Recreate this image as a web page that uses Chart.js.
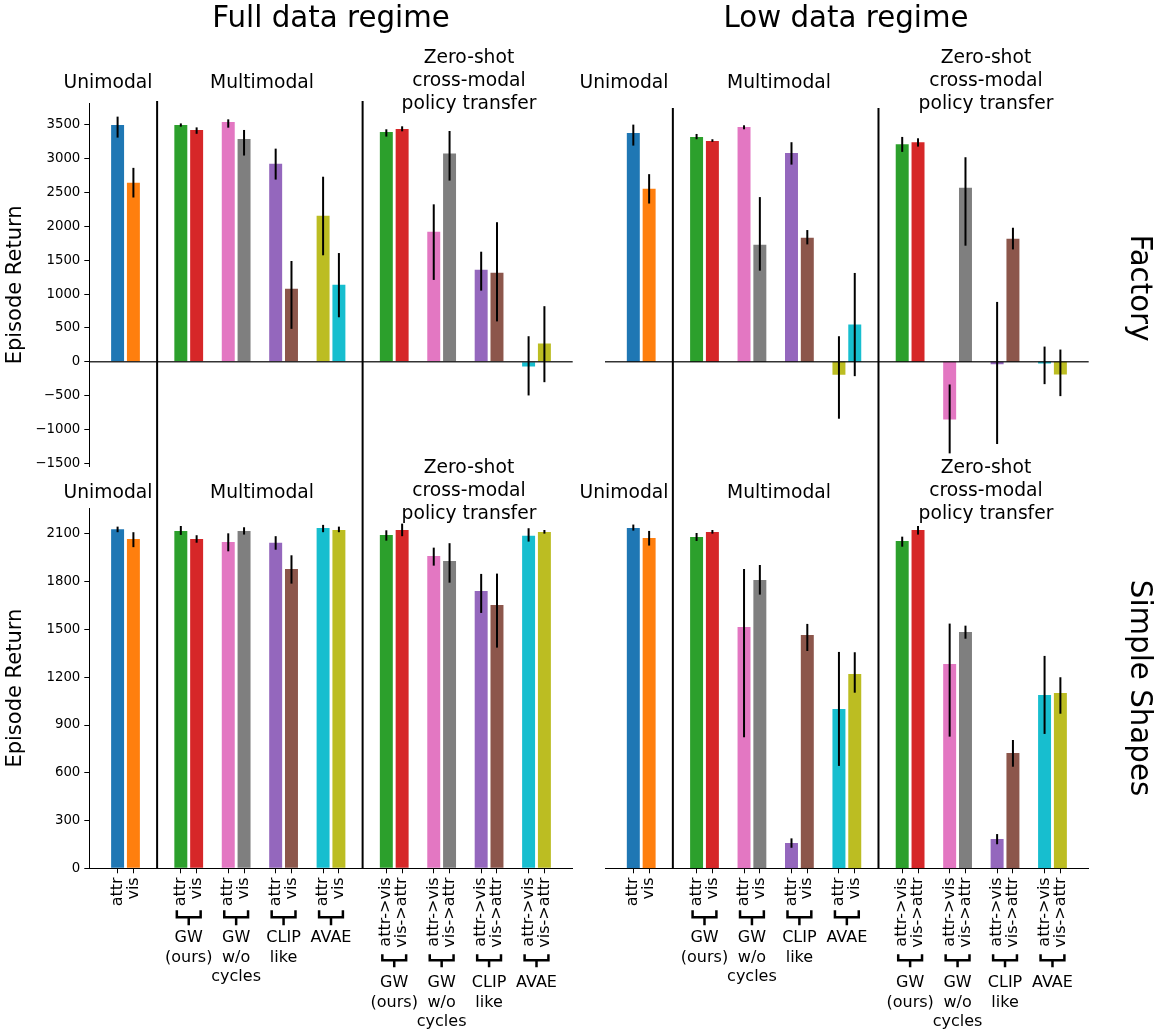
<!DOCTYPE html>
<html><head><meta charset="utf-8">
<script src="https://cdn.jsdelivr.net/npm/chart.js@4.4.1/dist/chart.umd.min.js"></script>
<style>
body{margin:0;background:#fff;}
#wrap{position:relative;width:1169px;height:1035px;overflow:hidden;font-family:'DejaVu Sans',sans-serif;color:#000;background:#fff;}
canvas{position:absolute;}
.t{position:absolute;white-space:nowrap;line-height:1;transform:translateX(-50%);}
.r{position:absolute;white-space:nowrap;line-height:1;transform:translate(-50%,-50%) rotate(90deg);}
</style></head><body><div id="wrap">
<canvas id="cTopFull" width="590" height="470" style="left:0;top:0"></canvas>
<canvas id="cTopLow" width="579" height="470" style="left:590px;top:0"></canvas>
<canvas id="cBotFull" width="590" height="565" style="left:0;top:470px"></canvas>
<canvas id="cBotLow" width="579" height="565" style="left:590px;top:470px"></canvas>
</div>
<script>
// ---------------- DATA ----------------
const regimes = ['Full data regime', 'Low data regime'];
const environments = ['Factory', 'Simple Shapes'];
const sectionTitles = ['Unimodal', 'Multimodal', 'Zero-shot\ncross-modal\npolicy transfer'];
const groupNames = ['GW\n(ours)', 'GW\nw/o\ncycles', 'CLIP\nlike', 'AVAE'];
const unimodalLabels = ['attr', 'vis'];
const multimodalLabels = ['attr', 'vis'];
const zeroShotLabels = ['attr->vis', 'vis->attr'];
const yAxisTitle = 'Episode Return';
const factoryTicks = [-1500, -1000, -500, 0, 500, 1000, 1500, 2000, 2500, 3000, 3500];
const shapesTicks = [0, 300, 600, 900, 1200, 1500, 1800, 2100];

// Factory – full data regime (bar value, error low end, error high end)
const factoryFullMean = [3500, 2645, 3500, 3426, 3544, 3294, 2925, 1081, 2158, 1140, 3396, 3440, 1922, 3077, 1361, 1317, -70, 270];
const factoryFullLow  = [3313, 2428, 3475, 3369, 3460, 3048, 2693, 487, 1574, 658, 3328, 3406, 1210, 2678, 1052, 597, -497, -301];
const factoryFullHigh = [3623, 2866, 3523, 3464, 3583, 3426, 3150, 1490, 2735, 1607, 3436, 3480, 2327, 3411, 1627, 2063, 378, 822];
const factoryFullColors = ['blue','orange','green','red','pink','gray','purple','brown','olive','cyan','green','red','pink','gray','purple','brown','cyan','olive'];

// Factory – low data regime
const factoryLowMean = [3382, 2556, 3323, 3264, 3471, 1730, 3087, 1834, -190, 550, 3214, 3244, -851, 2571, -35, 1819, -25, -187];
const factoryLowLow  = [3195, 2339, 3289, 3250, 3436, 1347, 2914, 1735, -841, -212, 3102, 3180, -1353, 1716, -1215, 1661, -330, -507];
const factoryLowHigh = [3505, 2773, 3367, 3289, 3495, 2434, 3245, 1947, 378, 1313, 3323, 3303, -335, 3023, 885, 1981, 225, 181];
const factoryLowColors = ['blue','orange','green','red','pink','gray','purple','brown','olive','cyan','green','red','pink','gray','purple','brown','cyan','olive'];

// Simple Shapes – full data regime
const shapesFullMean = [2130, 2068, 2119, 2068, 2050, 2119, 2044, 1880, 2138, 2125, 2094, 2125, 1962, 1930, 1742, 1654, 2088, 2113];
const shapesFullLow  = [2111, 2017, 2094, 2045, 1991, 2096, 2001, 1788, 2111, 2111, 2058, 2086, 1901, 1794, 1604, 1386, 2052, 2102];
const shapesFullHigh = [2146, 2111, 2150, 2092, 2104, 2142, 2086, 1966, 2157, 2146, 2123, 2165, 2014, 2042, 1849, 1851, 2136, 2125];
const shapesFullColors = ['blue','orange','green','red','pink','gray','purple','brown','cyan','olive','green','red','pink','gray','purple','brown','cyan','olive'];

// Simple Shapes – low data regime
const shapesLowMean = [2138, 2075, 2081, 2113, 1516, 1811, 159, 1466, 1001, 1221, 2056, 2125, 1283, 1484, 184, 724, 1089, 1101];
const shapesLowLow  = [2121, 2027, 2056, 2102, 823, 1719, 129, 1365, 643, 1103, 2020, 2096, 827, 1442, 151, 638, 844, 971];
const shapesLowHigh = [2159, 2119, 2106, 2125, 1880, 1905, 188, 1535, 1359, 1357, 2083, 2150, 1537, 1524, 215, 806, 1334, 1200];
const shapesLowColors = ['blue','orange','green','red','pink','gray','purple','brown','cyan','olive','green','red','pink','gray','purple','brown','cyan','olive'];

const tab = {blue:'#1f77b4', orange:'#ff7f0e', green:'#2ca02c', red:'#d62728', purple:'#9467bd',
             brown:'#8c564b', pink:'#e377c2', gray:'#7f7f7f', olive:'#bcbd22', cyan:'#17becf'};

// ---------------- STRUCTURE ----------------
// sections -> groups of two bars; one empty slot between groups, two between sections
const sectionGroupCounts = [1, groupNames.length, groupNames.length];
const sectionLabelSets = [unimodalLabels, multimodalLabels, zeroShotLabels];
const positions = [], tickLabels = [], groupsInfo = [], dividers = [];
(function () {
  let p = 0;
  sectionGroupCounts.forEach((n, si) => {
    if (si > 0) p += 2;
    for (let g = 0; g < n; g++) {
      if (g > 0) p += 1;
      positions.push(p, p + 1);
      tickLabels.push(sectionLabelSets[si][0], sectionLabelSets[si][1]);
      groupsInfo.push({section: si, group: g, a: p, b: p + 1});
      p += 2;
    }
  });
  // divider positions: midway between the last bar of a section and the first of the next
  for (let i = 1; i < positions.length; i++) {
    if (positions[i] - positions[i - 1] === 3) dividers.push((positions[i] + positions[i - 1]) / 2);
  }
})();

Chart.defaults.font.family = "'DejaVu Sans', sans-serif";
Chart.defaults.color = '#000';

function fmt(v) { return v < 0 ? '\u2212' + Math.abs(v) : String(v); }
function line(ctx, x1, y1, x2, y2) { ctx.beginPath(); ctx.moveTo(x1, y1); ctx.lineTo(x2, y2); ctx.stroke(); }

function buildChart(cfg) {
  const decor = {
    id: 'decor',
    afterDatasetsDraw(chart) {
      const ctx = chart.ctx, xs = chart.scales.x, ys = chart.scales.y, a = chart.chartArea;
      ctx.save();
      if (cfg.zeroLine) {
        ctx.strokeStyle = 'rgba(0,0,0,0.8)'; ctx.lineWidth = 1.5;
        const y0 = ys.getPixelForValue(0);
        line(ctx, a.left, y0, a.right, y0);
      }
      ctx.strokeStyle = '#000'; ctx.lineWidth = 2; ctx.lineCap = 'butt';
      positions.forEach((p, i) => {
        const x = xs.getPixelForValue(p);
        line(ctx, x, ys.getPixelForValue(cfg.lo[i]), x, ys.getPixelForValue(cfg.hi[i]));
      });
      ctx.restore();
    },
    afterDraw(chart) {
      const ctx = chart.ctx, xs = chart.scales.x, a = chart.chartArea;
      ctx.save();
      ctx.strokeStyle = '#000'; ctx.lineWidth = 2;
      dividers.forEach(d => {
        const x = xs.getPixelForValue(d);
        line(ctx, x, cfg.divTop, x, cfg.divToAxis ? a.bottom : chart.height);
      });
      if (cfg.brackets) {
        ctx.lineWidth = 2.5; ctx.lineJoin = 'miter';
        ctx.font = "16px 'DejaVu Sans'"; ctx.fillStyle = '#000';
        ctx.textAlign = 'center'; ctx.textBaseline = 'alphabetic';
        groupsInfo.forEach(g => {
          if (g.section === 0) return;
          const off = g.section === 1 ? {top: 42, h: 49, stem: 57, text: 74} : {top: 86, h: 92, stem: 99, text: 119};
          const xl = xs.getPixelForValue(g.a) - 4, xr = xs.getPixelForValue(g.b) + 4, xm = (xl + xr) / 2;
          const b = a.bottom;
          ctx.beginPath();
          ctx.moveTo(xl, b + off.top); ctx.lineTo(xl, b + off.h); ctx.lineTo(xr, b + off.h); ctx.lineTo(xr, b + off.top);
          ctx.moveTo(xm, b + off.h); ctx.lineTo(xm, b + off.stem);
          ctx.stroke();
          groupNames[g.group].split('\n').forEach((s, k) => ctx.fillText(s, xm, b + off.text + k * 19.5));
        });
      }
      ctx.restore();
    }
  };
  return new Chart(document.getElementById(cfg.id), {
    type: 'bar',
    data: {
      datasets: [{
        data: positions.map((p, i) => ({x: p, y: cfg.mean[i]})),
        backgroundColor: cfg.colors.map(c => tab[c]),
        borderWidth: 0, barPercentage: 0.82, categoryPercentage: 1
      }]
    },
    options: {
      responsive: false, animation: false, devicePixelRatio: 1,
      layout: {padding: cfg.padding},
      plugins: {legend: {display: false}, tooltip: {enabled: false}},
      scales: {
        x: {
          type: 'linear', min: -1.79, max: 28.79, offset: false, display: cfg.showX,
          grid: {display: true, drawOnChartArea: false, offset: false, color: '#000', tickLength: 5, lineWidth: 1},
          border: {display: true, color: '#000', width: 1},
          afterBuildTicks: s => { s.ticks = positions.map(v => ({value: v})); },
          ticks: {autoSkip: false, minRotation: 90, maxRotation: 90, padding: 4, color: '#000',
                  font: {size: 16}, callback: (v, i) => tickLabels[i]},
          afterFit: s => { s.height = cfg.showX ? cfg.xHeight : 0; s.paddingLeft = 0; s.paddingRight = 0; s.paddingTop = 0; s.paddingBottom = 0; }
        },
        y: {
          type: 'linear', min: cfg.yMin, max: cfg.yMax, display: cfg.showY,
          grid: {display: true, drawOnChartArea: false, color: '#000', tickLength: 5, lineWidth: 1},
          border: {display: true, color: '#000', width: 1},
          afterBuildTicks: s => { s.ticks = cfg.yTicks.map(v => ({value: v})); },
          ticks: {color: '#000', font: {size: 13.3}, padding: 4, callback: v => fmt(v)},
          title: {display: true, text: yAxisTitle, font: {size: 21}, color: '#000', padding: {top: 3.4, bottom: 0}},
          afterFit: s => { s.width = cfg.showY ? 89.3 : 0; s.paddingLeft = 0; s.paddingRight = 0; s.paddingTop = 0; s.paddingBottom = 0; }
        }
      }
    },
    plugins: [decor]
  });
}

buildChart({id: 'cTopFull', mean: factoryFullMean, lo: factoryFullLow, hi: factoryFullHigh, colors: factoryFullColors,
  yMin: -1547, yMax: 3820, yTicks: factoryTicks, showX: false, showY: true, zeroLine: true,
  padding: {left: 0, right: 17.3, top: 103.3, bottom: 3.5}, divTop: 101, divToAxis: false});
buildChart({id: 'cTopLow', mean: factoryLowMean, lo: factoryLowLow, hi: factoryLowHigh, colors: factoryLowColors,
  yMin: -1547, yMax: 3820, yTicks: factoryTicks, showX: false, showY: false, zeroLine: true,
  padding: {left: 15, right: 80.3, top: 103.3, bottom: 3.5}, divTop: 108, divToAxis: false});
buildChart({id: 'cBotFull', mean: shapesFullMean, lo: shapesFullLow, hi: shapesFullHigh, colors: shapesFullColors,
  yMin: 0, yMax: 2263, yTicks: shapesTicks, showX: true, showY: true, zeroLine: false, xHeight: 166.7,
  padding: {left: 0, right: 17.3, top: 38, bottom: 0}, divTop: 0, divToAxis: true, brackets: true});
buildChart({id: 'cBotLow', mean: shapesLowMean, lo: shapesLowLow, hi: shapesLowHigh, colors: shapesLowColors,
  yMin: 0, yMax: 2263, yTicks: shapesTicks, showX: true, showY: false, zeroLine: false, xHeight: 166.7,
  padding: {left: 15, right: 80.3, top: 38, bottom: 0}, divTop: 0, divToAxis: true, brackets: true});

// ---------------- TEXT ----------------
const wrap = document.getElementById('wrap');
function addText(str, cx, baseline, fs) {
  const d = document.createElement('div');
  d.className = 't'; d.textContent = str;
  d.style.fontSize = fs + 'px'; d.style.left = cx + 'px'; d.style.top = (baseline - 0.846 * fs) + 'px';
  wrap.appendChild(d);
}
function addRotated(str, cx, cy, fs) {
  const d = document.createElement('div');
  d.className = 'r'; d.textContent = str;
  d.style.fontSize = fs + 'px'; d.style.left = cx + 'px'; d.style.top = cy + 'px';
  wrap.appendChild(d);
}
addText(regimes[0], 331, 28, 29.3);
addText(regimes[1], 846, 28, 29.3);
addRotated(environments[0], 1140, 288, 29.3);
addRotated(environments[1], 1140, 688, 29.3);
const sectionCentres = [[108, 262, 469], [624, 779, 986]];
[0, 410].forEach(dy => {
  sectionCentres.forEach(cs => {
    addText(sectionTitles[0], cs[0], 89 + dy, 18.7);
    addText(sectionTitles[1], cs[1], 89 + dy, 18.7);
    sectionTitles[2].split('\n').forEach((s, k) => addText(s, cs[2], 63.5 + 23 * k + dy, 18.7));
  });
});
</script>
</body></html>
